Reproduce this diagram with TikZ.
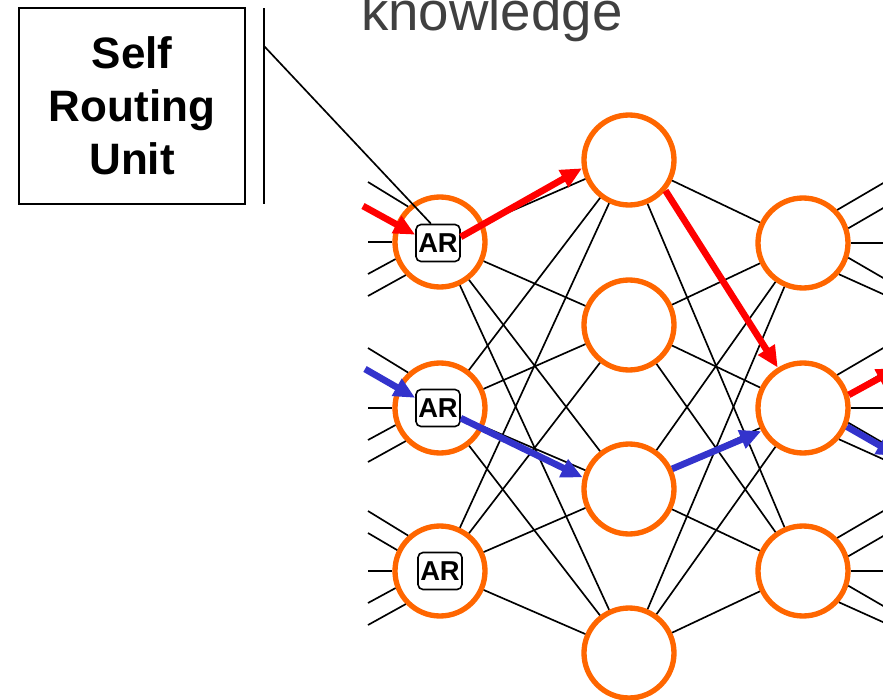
\documentclass[tikz,border=0pt]{standalone}
\usepackage{fontspec}
\setmainfont{Liberation Sans}
\usetikzlibrary{arrows.meta}
\definecolor{ringorange}{RGB}{255,102,0}
\definecolor{pathred}{RGB}{255,0,0}
\definecolor{pathblue}{RGB}{51,51,204}
\definecolor{titlegray}{RGB}{64,64,64}
\begin{document}
\begin{tikzpicture}[x=0.75pt,y=-0.75pt,
  neuron/.style={circle, draw=ringorange, line width=4pt, fill=white,
    minimum size=67.5pt, inner sep=0pt},
  arbox/.style={draw=black, line width=1.2pt, rounded corners=3.75pt, fill=white,
    minimum width=33pt, minimum height=27.75pt, inner sep=0pt,
    font=\fontsize{20.5}{24}\selectfont\bfseries},
  link/.style={line width=1.25pt, black},
  redpath/.style={draw=pathred, line width=5pt,
    -{Triangle[length=16pt,width=14pt]}},
  bluepath/.style={draw=pathblue, line width=5pt,
    -{Triangle[length=16pt,width=14pt]}},
]
\useasboundingbox (0,0) rectangle (883,700);
\clip (0,0) rectangle (883,700);

% heading, partly cut by the frame
\node[anchor=base west, inner sep=0pt, text=titlegray,
  font=\fontsize{41}{49}\selectfont] (title) at (361,30) {knowledge};

% self routing unit label and its bracket
\node[draw, line width=1.5pt, minimum width=169.5pt, minimum height=147pt,
  inner sep=0pt, align=center, font=\fontsize{33}{39.75}\selectfont\bfseries]
  (sru) at (132,106) {Self\\Routing\\Unit};
\coordinate (barT) at (264,8);
\coordinate (barB) at (264,204);
\coordinate (tap) at (264,46);
\draw[line width=1.5pt] (barT) -- (barB);

% neurons
\node[neuron] (L1) at (440,242) {};
\node[neuron] (L2) at (440,408) {};
\node[neuron] (L3) at (440,571) {};
\node[neuron] (M1) at (629,160) {};
\node[neuron] (M2) at (629,325) {};
\node[neuron] (M3) at (629,489) {};
\node[neuron] (M4) at (629,653) {};
\node[neuron] (R1) at (803,243) {};
\node[neuron] (R2) at (803,408) {};
\node[neuron] (R3) at (803,571) {};

% full connections between layers (the M1-R2 link runs under the red route)
\foreach \a in {L1,L2,L3}
  \foreach \b in {M1,M2,M3,M4}
    \draw[link] (\a) -- (\b);
\foreach \a/\b in {M1/R1,M1/R3,M2/R1,M2/R2,M2/R3,M3/R1,M3/R2,M3/R3,M4/R1,M4/R2,M4/R3}
  \draw[link] (\a) -- (\b);

% incoming stubs on the left layer
\foreach \n in {L1,L2,L3} {
  \path (\n) ++(-72,-60) coordinate (\n sa);
  \path (\n) ++(-72,0) coordinate (\n sc);
  \path (\n) ++(-72,32) coordinate (\n sd);
  \path (\n) ++(-72,54) coordinate (\n se);
  \draw[link] (\n sa) -- (\n.132);
  \draw[link] (\n sc) -- (\n.180);
  \draw[link] (\n sd) -- (\n.201);
  \draw[link] (\n se) -- (\n.224);
}
\path (L3) ++(-72,-38) coordinate (L3sb);
\draw[link] (L3sb) -- (L3.154);

% outgoing stubs on the right layer
\foreach \n in {R1,R2,R3} {
  \path (\n) ++(82,-61) coordinate (\n ta);
  \path (\n) ++(82,-36) coordinate (\n tb);
  \path (\n) ++(82,0) coordinate (\n tc);
  \path (\n) ++(82,36) coordinate (\n td);
  \path (\n) ++(82,52) coordinate (\n te);
  \draw[link] (\n.44) -- (\n ta);
  \draw[link] (\n.18) -- (\n tb);
  \draw[link] (\n.0) -- (\n tc);
  \draw[link] (\n.-18) -- (\n td);
  \draw[link] (\n.-41) -- (\n te);
}

% routing units
\node[arbox] (AR1) at (438,243) {AR};
\node[arbox] (AR2) at (438,408) {AR};
\node[arbox] (AR3) at (440,571) {AR};

\draw[link] (tap) -- (AR1.110);

% red route
\coordinate (redIn) at (363,206);
\coordinate (redOut) at (898,368);
\draw[redpath] (redIn) -- (AR1.160);
\draw[redpath] (AR1.15) -- (M1.190);
\draw[redpath] (M1.-40) -- (R2.122);
\draw[redpath] (R2.16) -- (redOut);

% blue route
\coordinate (blueIn) at (365,369);
\coordinate (blueOut) at (898,456);
\draw[bluepath] (blueIn) -- (AR2.156);
\draw[bluepath] (AR2.-24) -- (M3.166);
\draw[bluepath] (M3.25) -- (R2.209);
\draw[bluepath] (R2.-23) -- (blueOut);
\end{tikzpicture}
\end{document}
